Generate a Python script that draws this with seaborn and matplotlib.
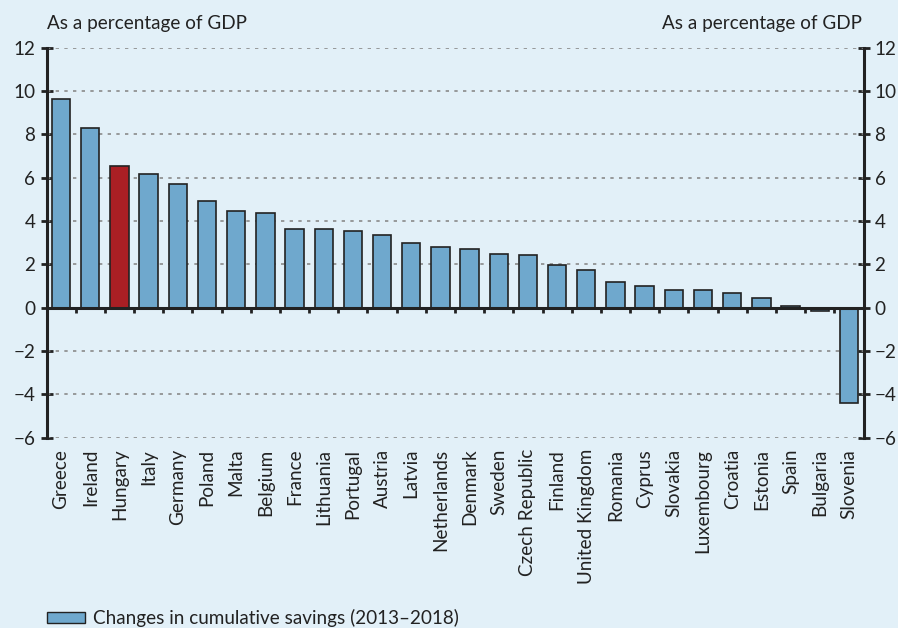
import matplotlib
matplotlib.use("Agg")
import matplotlib.pyplot as plt
import matplotlib.transforms as mtransforms
from matplotlib.patches import Patch
import seaborn as sns
import pandas as pd

countries = ["Greece", "Ireland", "Hungary", "Italy", "Germany", "Poland", "Malta",
             "Belgium", "France", "Lithuania", "Portugal", "Austria", "Latvia",
             "Netherlands", "Denmark", "Sweden", "Czech Republic", "Finland",
             "United Kingdom", "Romania", "Cyprus", "Slovakia", "Luxembourg",
             "Croatia", "Estonia", "Spain", "Bulgaria", "Slovenia"]
values = [9.61, 8.31, 6.55, 6.15, 5.69, 4.94, 4.46, 4.38, 3.65, 3.63, 3.54, 3.35,
          2.98, 2.78, 2.69, 2.50, 2.41, 1.95, 1.75, 1.20, 1.02, 0.83, 0.83, 0.66,
          0.45, 0.08, -0.13, -4.40]
highlight = "Hungary"
yticks = [-6, -4, -2, 0, 2, 4, 6, 8, 10, 12]
axis_label = "As a percentage of GDP"
legend_label = "Changes in cumulative savings (2013\u20132018)"

BG = "#E2F0F8"
BLUE = "#6FA8CD"
RED = "#AA1F24"
DARK = "#222222"
FS = 13.6

sns.set_theme(style="white")
plt.rcParams["font.family"] = ["Lato", "DejaVu Sans"]

df = pd.DataFrame({"country": countries, "value": values})
palette = {c: (RED if c == highlight else BLUE) for c in countries}

fig = plt.figure(figsize=(8.98, 6.28), dpi=100, facecolor=BG)
W, H = 898, 628
ax = fig.add_axes([46.5 / W, 1 - 437.7 / H, (863.5 - 46.5) / W, (437.7 - 47.7) / H])
ax.set_facecolor(BG)

sns.barplot(data=df, x="country", y="value", hue="country", palette=palette,
            legend=False, width=0.63, edgecolor=DARK, linewidth=1.2,
            saturation=1, ax=ax, zorder=3)

n = len(countries)
ax.set_xlim(-0.5, n - 0.5)
ax.set_ylim(yticks[0], yticks[-1])
ax.set_yticks(yticks)
ax.set_yticklabels([str(t).replace("-", "\u2212") for t in yticks])

for t in yticks:
    if t != 0:
        ax.axhline(t, color="#8a8a8a", lw=1.2, ls=(0, (2, 3.2)), zorder=1)
ax.axhline(0, color=DARK, lw=2.2, zorder=4)
trans = mtransforms.blended_transform_factory(ax.transData, ax.transData)
ax.vlines([i + 0.5 for i in range(n - 1)], -0.25, 0, color=DARK, lw=2, zorder=4,
          transform=trans)

for s in ["top", "bottom"]:
    ax.spines[s].set_visible(False)
for s in ["left", "right"]:
    ax.spines[s].set_visible(True)
    ax.spines[s].set_color(DARK)
    ax.spines[s].set_linewidth(2.2)

ax.tick_params(axis="y", which="both", left=True, right=True, labelleft=True,
               labelright=True, direction="inout", length=8, width=2,
               color=DARK, labelsize=FS, labelcolor="#222222", pad=4)
ax.tick_params(axis="x", bottom=False, length=0, labelsize=FS,
               labelcolor="#222222", pad=8)
plt.setp(ax.get_xticklabels(), rotation=90, ha="center", va="top")
ax.set_xlabel("")
ax.set_ylabel("")
ax.grid(False)

fig.text(47 / W, 1 - 29 / H, axis_label, fontsize=FS, color="#222222",
         ha="left", va="baseline")
fig.text(862 / W, 1 - 29 / H, axis_label, fontsize=FS, color="#222222",
         ha="right", va="baseline")

handle = Patch(facecolor=BLUE, edgecolor=DARK, linewidth=1)
fig.legend([handle], [legend_label], loc="lower left",
           bbox_to_anchor=(47 / W, 1 / H), frameon=False, fontsize=FS,
           handlelength=2.0, handleheight=0.5, handletextpad=0.42,
           borderpad=0, borderaxespad=0, labelcolor="#222222")

fig.savefig("out.png", dpi=100, facecolor=BG)
